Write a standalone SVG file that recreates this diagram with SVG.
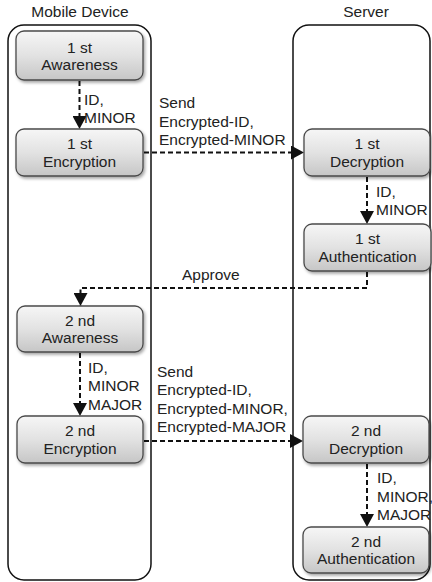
<svg xmlns="http://www.w3.org/2000/svg" width="432" height="582" viewBox="0 0 432 582">
<style>
text{font-family:"Liberation Sans",Arial,sans-serif;font-size:15.5px;fill:#222}
.c{text-anchor:middle}
.lane{fill:none;stroke:#111;stroke-width:1.5}
.box{fill:url(#g);stroke:#4a4a4a;stroke-width:1.3;filter:url(#sh)}
.dl{fill:none;stroke:#111;stroke-width:2;stroke-dasharray:5,3;marker-end:url(#ar)}
</style>
<defs>
<linearGradient id="g" x1="0" y1="0" x2="0" y2="1">
<stop offset="0" stop-color="#f6f6f6"/>
<stop offset="0.5" stop-color="#e2e2e2"/>
<stop offset="1" stop-color="#c6c6c6"/>
</linearGradient>
<filter id="sh" x="-10%" y="-10%" width="125%" height="140%">
<feDropShadow dx="1.5" dy="2" stdDeviation="1.5" flood-color="#000" flood-opacity="0.35"/>
</filter>
<marker id="ar" markerUnits="userSpaceOnUse" markerWidth="14" markerHeight="14" refX="13" refY="7" orient="auto">
<path d="M0,0 L13,7 L0,14 z" fill="#111"/>
</marker>
</defs>

<g id="lane-mobile">
<rect class="lane" x="8" y="25" width="143" height="555" rx="16"/>
<text class="c" x="80" y="17">Mobile Device</text>
</g>
<g id="lane-server">
<rect class="lane" x="293" y="25" width="137" height="555" rx="16"/>
<text class="c" x="366" y="17">Server</text>
</g>

<g id="connectors">
<line class="dl" x1="79.5" y1="81" x2="79.5" y2="129"/>
<text x="84" y="105">ID,</text>
<text x="84" y="123">MINOR</text>

<line class="dl" x1="144" y1="152.5" x2="304" y2="152.5"/>
<text x="159" y="108">Send</text>
<text x="159" y="127">Encrypted-ID,</text>
<text x="159" y="145">Encrypted-MINOR</text>

<line class="dl" x1="367" y1="177" x2="367" y2="224"/>
<text x="376" y="197">ID,</text>
<text x="376" y="215">MINOR</text>

<path class="dl" d="M367,272 V288 H80.5 V306"/>
<text x="182" y="280">Approve</text>

<line class="dl" x1="80" y1="353" x2="80" y2="416"/>
<text x="88" y="373">ID,</text>
<text x="88" y="391">MINOR</text>
<text x="88" y="410">MAJOR</text>

<line class="dl" x1="144" y1="441" x2="303" y2="441"/>
<text x="157" y="377">Send</text>
<text x="157" y="395">Encrypted-ID,</text>
<text x="157" y="414">Encrypted-MINOR,</text>
<text x="157" y="432">Encrypted-MAJOR</text>

<line class="dl" x1="367" y1="464" x2="367" y2="527"/>
<text x="377" y="483">ID,</text>
<text x="377" y="502">MINOR,</text>
<text x="377" y="520">MAJOR</text>
</g>

<g id="awareness1">
<rect class="box" x="16" y="31" width="127" height="49" rx="8"/>
<text class="c" x="79.5" y="52.5">1 st</text>
<text class="c" x="79.5" y="70">Awareness</text>
</g>
<g id="encryption1">
<rect class="box" x="16" y="129" width="127" height="47" rx="8"/>
<text class="c" x="79.5" y="149">1 st</text>
<text class="c" x="79.5" y="166.5">Encryption</text>
</g>
<g id="decryption1">
<rect class="box" x="304" y="129" width="126" height="47" rx="8"/>
<text class="c" x="367" y="149">1 st</text>
<text class="c" x="367" y="166.5">Decryption</text>
</g>
<g id="authentication1">
<rect class="box" x="304" y="224" width="127" height="47" rx="8"/>
<text class="c" x="367.5" y="244">1 st</text>
<text class="c" x="367.5" y="261.5">Authentication</text>
</g>
<g id="awareness2">
<rect class="box" x="17" y="306" width="126" height="46" rx="8"/>
<text class="c" x="80" y="325.5">2 nd</text>
<text class="c" x="80" y="343">Awareness</text>
</g>
<g id="encryption2">
<rect class="box" x="17" y="416" width="126" height="47" rx="8"/>
<text class="c" x="80" y="436">2 nd</text>
<text class="c" x="80" y="453.5">Encryption</text>
</g>
<g id="decryption2">
<rect class="box" x="303" y="416" width="126" height="47" rx="8"/>
<text class="c" x="366" y="436">2 nd</text>
<text class="c" x="366" y="453.5">Decryption</text>
</g>
<g id="authentication2">
<rect class="box" x="303" y="527" width="126" height="46" rx="8"/>
<text class="c" x="366" y="546.5">2 nd</text>
<text class="c" x="366" y="564">Authentication</text>
</g>
</svg>
